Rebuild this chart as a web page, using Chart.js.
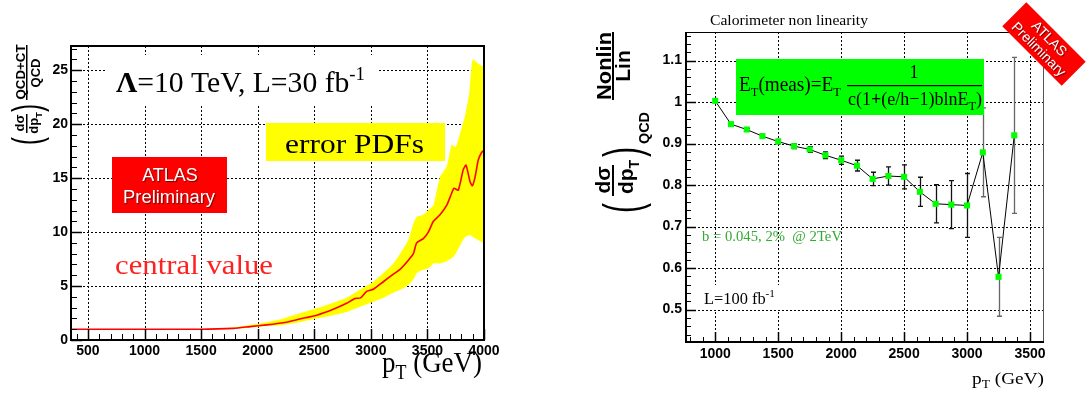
<!DOCTYPE html>
<html>
<head>
<meta charset="utf-8">
<script src="https://cdn.jsdelivr.net/npm/chart.js@4/dist/chart.umd.min.js"></script>
<style>
html, body { margin: 0; padding: 0; background: #fff; }
#wrap { position: relative; width: 1087px; height: 398px; overflow: hidden; }
#left { position: absolute; left: 0; top: 0; }
#right { position: absolute; left: 560px; top: 0; }
</style>
</head>
<body>
<div id="wrap">
  <canvas id="left" width="500" height="398"></canvas>
  <canvas id="right" width="527" height="398"></canvas>
</div>
<script>
// ---- left panel: QCD+CT / QCD ratio ----
let bandPt    = [350, 1500, 1785, 1932, 2079, 2227, 2374, 2521, 2668, 2786, 2910, 3022, 3110, 3199, 3258, 3332, 3376, 3405, 3464, 3508, 3553, 3611, 3671, 3714, 3750, 3790, 3830, 3870, 3900, 3950, 4000];
let bandUpper = [1.02, 1.03, 1.17, 1.39, 1.64, 2.0, 2.47, 2.94, 3.46, 3.92, 4.7, 5.4, 6.2, 7.1, 8.0, 9.3, 10.8, 11.4, 11.6, 12.05, 12.5, 15.1, 16.1, 18.1, 17.9, 19.2, 20.7, 22.9, 26.0, 25.6, 25.3];
let bandLower = [0.98, 0.98, 1.02, 1.17, 1.3, 1.39, 1.67, 2.0, 2.3, 2.6, 3.1, 3.55, 3.92, 4.39, 4.64, 5.1, 5.6, 6.18, 6.5, 6.64, 7.1, 7.1, 7.3, 7.57, 8.0, 8.8, 9.5, 9.73, 9.58, 9.27, 8.96];

let centralPt  = [350, 1490, 1785, 1932, 2079, 2227, 2374, 2521, 2668, 2786, 2860, 2910, 2963, 3022, 3110, 3199, 3258, 3332, 3376, 3405, 3464, 3508, 3553, 3611, 3671, 3714, 3735, 3773, 3817, 3841, 3876, 3897, 3921, 3950, 3980, 4000];
let centralVal = [1.0, 1.0, 1.08, 1.24, 1.4, 1.6, 1.95, 2.3, 2.85, 3.4, 3.85, 3.9, 4.5, 4.7, 5.4, 6.1, 6.55, 7.4, 8.0, 9.0, 9.4, 10.0, 11.0, 11.6, 12.5, 13.6, 14.06, 13.9, 15.8, 16.2, 14.7, 14.3, 15.1, 16.7, 17.4, 17.6];

let leftXTicks = [500, 1000, 1500, 2000, 2500, 3000, 3500, 4000];
let leftYTicks = [0, 5, 10, 15, 20, 25];

// ---- right panel: calorimeter non linearity ----
let nlPt  = [1000, 1125, 1250, 1375, 1500, 1625, 1750, 1875, 2000, 2125, 2250, 2375, 2500, 2625, 2750, 2875, 3000, 3125, 3250, 3375];
let nlVal = [1.003, 0.947, 0.934, 0.918, 0.905, 0.894, 0.886, 0.872, 0.860, 0.847, 0.815, 0.822, 0.820, 0.784, 0.755, 0.753, 0.751, 0.879, 0.579, 0.920];
let nlErr = [0.002, 0.003, 0.003, 0.004, 0.005, 0.006, 0.007, 0.008, 0.010, 0.013, 0.016, 0.022, 0.029, 0.035, 0.046, 0.058, 0.077, 0.107, 0.095, 0.188];

let rightXTicks = [1000, 1500, 2000, 2500, 3000, 3500];
let rightYTicks = [0.5, 0.6, 0.7, 0.8, 0.9, 1, 1.1];

const SANS = 'Liberation Sans';
const SERIF = 'Liberation Serif';

// text helpers (everything stays real text)
function rich(ctx, segs, x, y, color, align, width) {
    ctx.save();
    ctx.fillStyle = color;
    ctx.textAlign = 'left';
    ctx.textBaseline = 'alphabetic';
    let total = 0;
    for (let s of segs) { ctx.font = s.font; s.w = ctx.measureText(s.t).width; total += s.w; }
    let sx = width ? width / total : 1;
    let W = total * sx;
    let x0 = align === 'center' ? x - W / 2 : align === 'right' ? x - W : x;
    ctx.translate(x0, y);
    ctx.scale(sx, 1);
    let cx = 0;
    for (let s of segs) { ctx.font = s.font; ctx.fillText(s.t, cx, s.dy || 0); cx += s.w; }
    ctx.restore();
}

// rotated text reading bottom-to-top, baseline at page x = bx, centred on page y = cy
function rot(ctx, segs, bx, cy, color, len) {
    ctx.save();
    ctx.translate(bx, cy);
    ctx.rotate(-Math.PI / 2);
    rich(ctx, segs, 0, 0, color, 'center', len);
    ctx.restore();
}

function fixedAxis(ticks, size, isY) {
    return {
        afterBuildTicks: (s) => { s.ticks = ticks.map(v => ({ value: v })); },
        afterFit: (s) => {
            if (isY) { s.width = size; s.paddingTop = 0; s.paddingBottom = 0; }
            else { s.height = size; s.paddingLeft = 0; s.paddingRight = 0; }
        }
    };
}

function dottedGrid(ctx, chart, xt, yt) {
    let a = chart.chartArea, xs = chart.scales.x, ys = chart.scales.y;
    ctx.save();
    ctx.strokeStyle = '#000';
    ctx.lineWidth = 1;
    ctx.setLineDash([2, 2]);
    for (let v of xt) {
        let px = Math.round(xs.getPixelForValue(v)) + 0.5;
        ctx.beginPath(); ctx.moveTo(px, a.top); ctx.lineTo(px, a.bottom); ctx.stroke();
    }
    for (let v of yt) {
        let py = Math.round(ys.getPixelForValue(v)) + 0.5;
        ctx.beginPath(); ctx.moveTo(a.left, py); ctx.lineTo(a.right, py); ctx.stroke();
    }
    ctx.restore();
}

function axisTicks(ctx, chart, xFrom, xTo, xStep, xMajor, yFrom, yTo, yStep, yMajor, majLen, minLen) {
    let a = chart.chartArea, xs = chart.scales.x, ys = chart.scales.y;
    ctx.save();
    ctx.strokeStyle = '#000';
    for (let k = Math.round(xFrom / xStep); k <= Math.round(xTo / xStep); k++) {
        let v = k * xStep, major = k % xMajor === 0;
        let px = Math.round(xs.getPixelForValue(v)) + 0.5;
        ctx.lineWidth = major ? 1.5 : 1;
        ctx.beginPath(); ctx.moveTo(px, a.bottom); ctx.lineTo(px, a.bottom - (major ? majLen : minLen)); ctx.stroke();
    }
    for (let k = Math.round(yFrom / yStep); k <= Math.round(yTo / yStep); k++) {
        let v = k * yStep, major = k % yMajor === 0;
        let py = Math.round(ys.getPixelForValue(v)) + 0.5;
        ctx.lineWidth = major ? 1.5 : 1;
        ctx.beginPath(); ctx.moveTo(a.left, py); ctx.lineTo(a.left + (major ? majLen : minLen), py); ctx.stroke();
    }
    ctx.restore();
}

const tickFont = { family: SANS, weight: 'bold', size: 14 };

// ---------------- left chart ----------------
const leftDeco = {
    id: 'leftDeco',
    beforeDatasetsDraw(chart) {
        dottedGrid(chart.ctx, chart, leftXTicks, leftYTicks);
    },
    afterDatasetsDraw(chart) {
        let ctx = chart.ctx, a = chart.chartArea;
        ctx.save();
        // pave boxes
        ctx.fillStyle = '#fff';
        ctx.fillRect(105, 55, 273, 50);
        ctx.fillStyle = '#ffff00';
        ctx.fillRect(266, 123, 179, 38);
        ctx.fillStyle = '#ff0000';
        ctx.fillRect(112, 157, 115, 56);
        ctx.restore();

        axisTicks(ctx, chart, 400, 4000, 100, 5, 0, 27, 1, 5, 11, 6);
        ctx.save();
        ctx.strokeStyle = '#000';
        ctx.lineWidth = 2;
        ctx.strokeRect(a.left, a.top, a.right - a.left, a.bottom - a.top);
        ctx.restore();

        rich(ctx, [
            { t: '\u039B', font: 'bold 30px ' + SERIF },
            { t: '=10 TeV, L=30 fb', font: '30px ' + SERIF },
            { t: '-1', font: '19px ' + SERIF, dy: -12 }
        ], 116, 92, '#000', 'left', 249);
        rich(ctx, [{ t: 'error PDFs', font: '27px ' + SERIF }], 285, 153, '#000', 'left', 139);
        rich(ctx, [{ t: 'central value', font: '28px ' + SERIF }], 115, 274, '#ff2020', 'left', 158);

        ctx.save();
        ctx.shadowColor = 'rgba(60,0,0,0.7)';
        ctx.shadowOffsetX = 1; ctx.shadowOffsetY = 1; ctx.shadowBlur = 1;
        rich(ctx, [{ t: 'ATLAS', font: '18px ' + SANS }], 170, 181, '#fff', 'center');
        rich(ctx, [{ t: 'Preliminary', font: '18px ' + SANS }], 169, 203, '#fff', 'center', 92);
        ctx.restore();

        // axis titles
        rich(ctx, [
            { t: 'p', font: '30px ' + SERIF },
            { t: 'T', font: '20px ' + SERIF, dy: 7 },
            { t: ' (GeV)', font: '30px ' + SERIF }
        ], 482, 372, '#000', 'right', 100);

        let bf = 'bold 13px ' + SANS;
        rot(ctx, [{ t: 'QCD+CT', font: bf }], 25, 72, '#000', 55);
        rot(ctx, [{ t: 'QCD', font: bf }], 40, 73, '#000', 29);
        ctx.fillStyle = '#000';
        ctx.fillRect(26, 45, 1.5, 55);
        rot(ctx, [{ t: 'd\u03C3', font: bf }], 24, 123, '#000');
        rot(ctx, [{ t: 'dp', font: bf }, { t: 'T', font: 'bold 9px ' + SANS, dy: 4 }], 38, 123, '#000');
        ctx.fillRect(26, 114, 1.5, 19);
        rot(ctx, [{ t: '(', font: '40px ' + SANS }], 41, 141, '#000', 8);
        rot(ctx, [{ t: ')', font: '40px ' + SANS }], 41, 108, '#000', 8);
    }
};

new Chart(document.getElementById('left'), {
    type: 'line',
    data: {
        datasets: [
            {
                data: centralPt.map((x, i) => ({ x: x, y: centralVal[i] })),
                borderColor: '#ff0000', borderWidth: 1.6, pointRadius: 0, fill: false, tension: 0.2,
                order: 0
            },
            {
                data: bandPt.map((x, i) => ({ x: x, y: bandUpper[i] })),
                borderWidth: 0, pointRadius: 0, backgroundColor: '#ffff00',
                fill: '+1', tension: 0.2, order: 1
            },
            {
                data: bandPt.map((x, i) => ({ x: x, y: bandLower[i] })),
                borderWidth: 0, pointRadius: 0, fill: false, tension: 0.2, order: 2
            }
        ]
    },
    options: {
        responsive: false,
        animation: false,
        devicePixelRatio: 1,
        layout: { padding: { left: 0, right: 16, top: 46, bottom: 0 } },
        plugins: { legend: { display: false }, tooltip: { enabled: false } },
        scales: {
            x: Object.assign({
                type: 'linear', min: 350, max: 4000,
                grid: { display: false, drawTicks: false }, border: { display: false },
                ticks: { font: tickFont, color: '#000', padding: 3, maxRotation: 0, autoSkip: false, callback: v => String(v) }
            }, fixedAxis(leftXTicks, 58, false)),
            y: Object.assign({
                min: 0, max: 27.25,
                grid: { display: false, drawTicks: false }, border: { display: false },
                ticks: { font: tickFont, color: '#000', padding: 3, autoSkip: false, callback: v => String(v) }
            }, fixedAxis(leftYTicks, 71, true))
        }
    },
    plugins: [leftDeco]
});

// ---------------- right chart ----------------
const rightDeco = {
    id: 'rightDeco',
    beforeDatasetsDraw(chart) {
        let ctx = chart.ctx, a = chart.chartArea, xs = chart.scales.x, ys = chart.scales.y;
        dottedGrid(ctx, chart, rightXTicks, rightYTicks);
        // error bars
        ctx.save();
        ctx.beginPath(); ctx.rect(a.left, a.top, a.right - a.left, a.bottom - a.top); ctx.clip();
        nlPt.forEach((x, i) => {
            let px = Math.round(xs.getPixelForValue(x)) + 0.5;
            let y1 = ys.getPixelForValue(nlVal[i] + nlErr[i]);
            let y2 = ys.getPixelForValue(nlVal[i] - nlErr[i]);
            ctx.strokeStyle = nlErr[i] > 0.09 ? '#666' : '#111';
            ctx.lineWidth = 1.3;
            ctx.beginPath();
            ctx.moveTo(px, y1); ctx.lineTo(px, y2);
            ctx.moveTo(px - 2.5, y1); ctx.lineTo(px + 2.5, y1);
            ctx.moveTo(px - 2.5, y2); ctx.lineTo(px + 2.5, y2);
            ctx.stroke();
        });
        ctx.restore();
    },
    afterDatasetsDraw(chart) {
        let ctx = chart.ctx, a = chart.chartArea;
        ctx.save();
        ctx.translate(-560, 0);
        ctx.fillStyle = '#fff';
        ctx.fillRect(687, 285, 95, 25);
        ctx.fillStyle = '#00ff00';
        ctx.fillRect(736, 59, 248, 56);
        ctx.restore();

        axisTicks(ctx, chart, 800, 3600, 100, 5, 0.44, 1.16, 0.02, 5, 10, 5);

        ctx.save();
        ctx.strokeStyle = '#000';
        ctx.lineWidth = 1;
        ctx.beginPath(); ctx.moveTo(a.left, a.top + 0.5); ctx.lineTo(a.right, a.top + 0.5); ctx.stroke();
        ctx.strokeStyle = '#555';
        ctx.beginPath(); ctx.moveTo(a.right - 0.5, a.top); ctx.lineTo(a.right - 0.5, a.bottom); ctx.stroke();
        ctx.strokeStyle = '#000';
        ctx.lineWidth = 2;
        ctx.beginPath(); ctx.moveTo(a.left, a.top); ctx.lineTo(a.left, a.bottom); ctx.lineTo(a.right, a.bottom); ctx.stroke();
        ctx.restore();

        ctx.save();
        ctx.translate(-560, 0);
        rich(ctx, [{ t: 'Calorimeter non linearity', font: '14px ' + SERIF }], 710, 25, '#000', 'left', 158);

        // formula pave
        rich(ctx, [
            { t: 'E', font: '20px ' + SERIF },
            { t: 'T', font: '13px ' + SERIF, dy: 5 },
            { t: '(meas)=E', font: '20px ' + SERIF },
            { t: 'T', font: '13px ' + SERIF, dy: 5 }
        ], 739, 91, '#000', 'left', 102);
        ctx.fillStyle = '#000';
        ctx.fillRect(847, 85, 135, 1.2);
        rich(ctx, [{ t: '1', font: '18px ' + SERIF }], 914, 78, '#000', 'center');
        rich(ctx, [
            { t: 'c(1', font: '19px ' + SERIF },
            { t: '+', font: 'bold 19px ' + SERIF },
            { t: '(e/h\u22121)blnE', font: '19px ' + SERIF },
            { t: 'T', font: '13px ' + SERIF, dy: 5 },
            { t: ')', font: '19px ' + SERIF }
        ], 848, 105, '#000', 'left', 134);

        rich(ctx, [{ t: 'b = 0.045, 2%  @ 2TeV', font: '14px ' + SERIF }], 702, 241, '#33aa33', 'left', 140);
        rich(ctx, [
            { t: 'L=100 fb', font: '16px ' + SERIF },
            { t: '-1', font: '11px ' + SERIF, dy: -7 }
        ], 704, 304, '#000', 'left', 71);

        rich(ctx, [
            { t: 'p', font: '17px ' + SERIF },
            { t: 'T', font: '12px ' + SERIF, dy: 4 },
            { t: ' (GeV)', font: '17px ' + SERIF }
        ], 1044, 384, '#000', 'right', 72);

        // y title
        let bf = 'bold 21px ' + SANS;
        rot(ctx, [{ t: 'Nonlin', font: bf }], 611, 66, '#000', 68);
        rot(ctx, [{ t: 'Lin', font: bf }], 630, 66, '#000');
        ctx.fillStyle = '#000';
        ctx.fillRect(612, 32, 2, 68);
        rot(ctx, [{ t: 'd\u03C3', font: bf }], 610, 180, '#000');
        rot(ctx, [{ t: 'dp', font: bf }, { t: 'T', font: 'bold 14px ' + SANS, dy: 6 }], 633, 177, '#000');
        ctx.fillRect(612, 165, 2, 31);
        rot(ctx, [{ t: '(', font: '52px ' + SANS }], 640, 208, '#000', 10);
        rot(ctx, [{ t: ')', font: '52px ' + SANS }], 640, 152, '#000', 10);
        rot(ctx, [{ t: 'QCD', font: 'bold 14px ' + SANS }], 649, 128, '#000', 32);

        // rotated ATLAS ribbon
        ctx.save();
        ctx.translate(1044, 44);
        ctx.rotate(Math.PI / 4);
        ctx.fillStyle = '#ff0000';
        ctx.fillRect(-42, -17, 84, 34);
        ctx.shadowColor = 'rgba(60,0,0,0.7)';
        ctx.shadowOffsetX = 1; ctx.shadowOffsetY = 1; ctx.shadowBlur = 1;
        rich(ctx, [{ t: 'ATLAS', font: '14px ' + SANS }], 0, -3, '#fff', 'center');
        rich(ctx, [{ t: 'Preliminary', font: '14px ' + SANS }], 0, 12, '#fff', 'center');
        ctx.restore();
        ctx.restore();
    }
};

new Chart(document.getElementById('right'), {
    type: 'line',
    data: {
        datasets: [{
            data: nlPt.map((x, i) => ({ x: x, y: nlVal[i] })),
            borderColor: '#000', borderWidth: 1, tension: 0, fill: false,
            pointStyle: 'rect', pointRadius: 4.3,
            pointBackgroundColor: '#00ff00', pointBorderColor: '#00ff00', pointBorderWidth: 0
        }]
    },
    options: {
        responsive: false,
        animation: false,
        devicePixelRatio: 1,
        layout: { padding: { left: 0, right: 43, top: 32, bottom: 0 } },
        plugins: { legend: { display: false }, tooltip: { enabled: false } },
        scales: {
            x: Object.assign({
                type: 'linear', min: 768, max: 3611,
                grid: { display: false, drawTicks: false }, border: { display: false },
                ticks: { font: tickFont, color: '#000', padding: 4, maxRotation: 0, autoSkip: false, callback: v => String(v) }
            }, fixedAxis(rightXTicks, 56, false)),
            y: Object.assign({
                min: 0.422, max: 1.169,
                grid: { display: false, drawTicks: false }, border: { display: false },
                ticks: { font: tickFont, color: '#000', padding: 4, autoSkip: false, callback: v => String(+v.toFixed(2)) }
            }, fixedAxis(rightYTicks, 126, true))
        }
    },
    plugins: [rightDeco]
});
</script>
</body>
</html>
